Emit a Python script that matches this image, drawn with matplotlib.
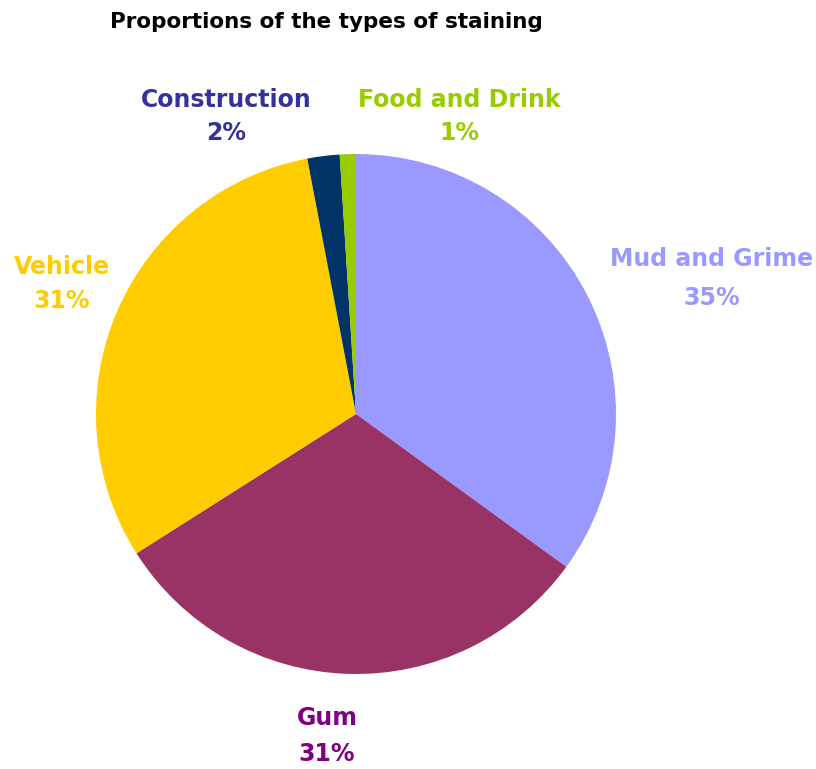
import matplotlib.pyplot as plt

plt.rcParams['font.family'] = ['DejaVu Sans']

# Data, clockwise from 12 o'clock
categories = ['Mud and Grime', 'Gum', 'Vehicle', 'Construction', 'Food and Drink']
shares = [35, 31, 31, 2, 1]
slice_colors = ['#9999FF', '#993366', '#FFCC00', '#003366', '#99CC00']
label_colors = ['#9999FF', '#800080', '#FFCC00', '#333399', '#99CC00']

W, H = 816, 769
fig = plt.figure(figsize=(W / 100, H / 100), dpi=100)

# pie centre (356, 414) px, radius 260 px
cx, cy, r = 356, 414, 260
ax = fig.add_axes([(cx - r) / W, (H - cy - r) / H, 2 * r / W, 2 * r / H])
ax.pie(shares, colors=slice_colors, startangle=90, counterclock=False,
       radius=1, wedgeprops=dict(linewidth=0))
ax.set_xlim(-1, 1)
ax.set_ylim(-1, 1)
ax.set_aspect('equal')
ax.axis('off')

fig.text(326 / W, 1 - 22 / H, 'Proportions of the types of staining',
         ha='center', va='center', fontsize=15.5, fontweight='bold', color='black')

# label anchor points in pixels (centre of name line, centre of % line)
label_pos = {
    'Mud and Grime': (712, 259, 298),
    'Gum': (327, 718, 754),
    'Vehicle': (62, 267, 301),
    'Construction': (226, 100, 133),
    'Food and Drink': (459, 100, 133),
}
for name, val, col in zip(categories, shares, label_colors):
    x, y1, y2 = label_pos[name]
    fig.text(x / W, 1 - y1 / H, name, ha='center', va='center',
             fontsize=17, fontweight='semibold', color=col)
    fig.text(x / W, 1 - y2 / H, f'{val}%', ha='center', va='center',
             fontsize=17, fontweight='semibold', color=col)

plt.savefig('out.png', dpi=100)
